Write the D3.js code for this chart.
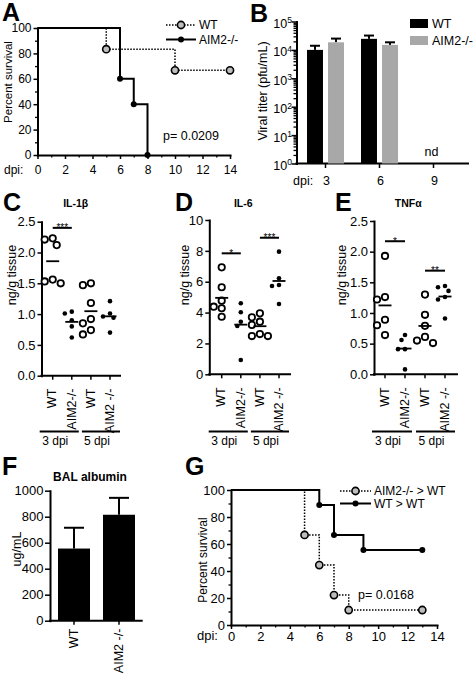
<!DOCTYPE html>
<html><head><meta charset="utf-8">
<script src="https://cdn.jsdelivr.net/npm/d3@7"></script>
<style>
body{margin:0;background:#fff;}
svg text{font-family:"Liberation Sans",Arial,Helvetica,sans-serif;fill:#000;}
</style></head><body>
<svg id="fig" width="474" height="674"></svg>
<script>
// ================= DATA =================
const survTicks = [0, 20, 40, 60, 80, 100];
const dayTicks = [0, 2, 4, 6, 8, 10, 12, 14];

// Panel A (Kaplan-Meier)
const aWTDays = [0, 5, 10, 14];
const aWTSurv = [100, 83.3, 66.7, 66.7];
const aKODays = [0, 6, 7, 8];
const aKOSurv = [100, 60, 40, 0];
const aLegend = ["WT", "AIM2-/-"];
const aPval = "p= 0.0209";

// Panel B (viral titer, log scale)
const bDays = ["3", "6", "9"];
const bGroups = ["WT", "AIM2-/-"];
const bWTMean = [1.0e4, 2.45e4, null];
const bWTErr = [1.4e4, 3.2e4, null];
const bKOMean = [1.85e4, 1.5e4, null];
const bKOErr = [2.5e4, 1.85e4, null];
const bExps = [0, 1, 2, 3, 4, 5];

// Panels C-E (cytokines)
const cytoCats = ["WT-3", "AIM2-3", "WT-5", "AIM2-5"];
const cytoLabels = ["WT", "AIM2-/-", "WT", "AIM2 -/-"];
const cytoGroups = ["3 dpi", "5 dpi"];

const il1bWT3 = [2.23, 2.21, 2.12, 1.56, 1.50, 1.53];
const il1bKO3 = [1.04, 1.01, 0.90, 0.80, 0.62];
const il1bWT5 = [1.50, 1.47, 1.18, 0.92, 0.85, 0.74, 0.67];
const il1bKO5 = [1.21, 1.01, 0.96, 0.94, 0.70];
const il1bTicks = [0, 0.5, 1.0, 1.5, 2.0, 2.5];
const il1bSig = [{a: 0, b: 1, v: 2.40, t: "***"}];

const il6WT3 = [6.93, 5.64, 4.77, 4.38, 4.28, 3.73];
const il6KO3 = [4.60, 4.02, 3.41, 3.13, 0.93];
const il6WT5 = [3.95, 3.69, 3.41, 3.20, 2.61, 2.48, 2.48];
const il6KO5 = [7.95, 6.22, 5.79, 5.72, 4.56];
const il6Ticks = [0, 2, 4, 6, 8, 10];
const il6Sig = [{a: 0, b: 1, v: 7.84, t: "*"}, {a: 2, b: 3, v: 8.85, t: "***"}];

const tnfWT3 = [1.93, 1.26, 1.22, 0.89, 0.80, 0.64];
const tnfKO3 = [0.64, 0.56, 0.41, 0.41, 0.08];
const tnfWT5 = [1.30, 0.97, 0.79, 0.61, 0.55, 0.51];
const tnfKO5 = [1.44, 1.42, 1.36, 1.26, 1.22, 0.91];
const tnfTicks = [0, 0.5, 1.0, 1.5, 2.0, 2.5];
const tnfSig = [{a: 0, b: 1, v: 2.17, t: "*"}, {a: 2, b: 3, v: 1.69, t: "**"}];

// Panel F (BAL albumin)
const fCats = ["WT", "AIM2 -/-"];
const fMean = [555, 815];
const fErr = [715, 945];
const fTicks = [0, 200, 400, 600, 800, 1000];

// Panel G (bone-marrow chimera survival)
const gKODays = [0, 5, 6, 7, 8, 13];
const gKOSurv = [100, 66.7, 44.4, 22.2, 11.1, 11.1];
const gWTDays = [0, 6, 7, 9, 13];
const gWTSurv = [100, 88.9, 66.7, 55.6, 55.6];
const gLegend = ["AIM2-/- > WT", "WT > WT"];
const gPval = "p= 0.0168";

// ================= DRAWING =================
const FONT = '"Liberation Sans", Arial, Helvetica, sans-serif';
const svg = d3.select("#fig");

function styleAxis(g, fs) {
  g.attr("font-family", FONT).attr("font-size", fs);
  g.select(".domain").attr("stroke", "#000").attr("stroke-width", 2).attr("stroke-linecap", "square");
  g.selectAll(".tick line").attr("stroke", "#000").attr("stroke-width", 1.5);
  g.selectAll(".tick text").attr("fill", "#000");
}
function minorStyle(g) {
  g.select(".domain").remove();
  g.selectAll(".tick line").attr("stroke", "#000").attr("stroke-width", 1.3);
}
function letter(t, x, y) {
  svg.append("text").attr("x", x).attr("y", y).attr("font-size", 25)
    .attr("font-weight", "bold").text(t);
}
function rotLabel(t, cx, cy, fs) {
  svg.append("text").attr("transform", `translate(${cx},${cy}) rotate(-90)`)
    .attr("text-anchor", "middle").attr("dy", "0.35em").attr("font-size", fs).text(t);
}
function txt(t, x, y, fs, anchor, weight) {
  return svg.append("text").attr("x", x).attr("y", y).attr("font-size", fs)
    .attr("text-anchor", anchor || "start").attr("font-weight", weight || "normal").text(t);
}

// ---------- survival panel ----------
function survival(o) {
  const x = d3.scaleLinear().domain([0, 14]).range([o.x0, o.x1]);
  const y = d3.scaleLinear().domain([0, 100]).range([o.yb, o.yt]);
  svg.append("g").attr("transform", `translate(${o.x0},0)`)
    .call(d3.axisLeft(y).tickValues(d3.range(10, 100, 20)).tickSize(2.5).tickFormat(""))
    .call(minorStyle);
  svg.append("g").attr("transform", `translate(0,${o.yb})`)
    .call(d3.axisBottom(x).tickValues(d3.range(1, 14, 2)).tickSize(2.5).tickFormat(""))
    .call(minorStyle);
  svg.append("g").attr("transform", `translate(${o.x0},0)`)
    .call(d3.axisLeft(y).tickValues(survTicks).tickSize(4).tickSizeOuter(0).tickPadding(2))
    .call(g => styleAxis(g, o.fs));
  svg.append("g").attr("transform", `translate(0,${o.yb})`)
    .call(d3.axisBottom(x).tickValues(dayTicks).tickSize(4).tickSizeOuter(0).tickPadding(o.xpad))
    .call(g => styleAxis(g, o.fs));
  txt("dpi:", o.dpiX, o.dpiY, o.fs);
  rotLabel("Percent survival", o.ylx, o.yly, o.ylfs);

  const line = d3.line().x(d => x(d[0])).y(d => y(d[1])).curve(d3.curveStepAfter);
  const dotted = d3.zip(o.dotDays, o.dotSurv);
  const solid = d3.zip(o.solDays, o.solSurv);
  svg.append("path").attr("d", line(dotted)).attr("fill", "none").attr("stroke", "#000")
    .attr("stroke-width", 1.5).attr("stroke-dasharray", "1.5,1.5");
  svg.append("path").attr("d", line(solid)).attr("fill", "none").attr("stroke", "#000")
    .attr("stroke-width", 2);
  svg.selectAll(null).data(dotted.slice(1)).join("circle")
    .attr("cx", d => x(d[0])).attr("cy", d => y(d[1])).attr("r", 3.6)
    .attr("fill", "#bdbdbd").attr("stroke", "#000").attr("stroke-width", 1.6);
  svg.selectAll(null).data(solid.slice(1)).join("circle")
    .attr("cx", d => x(d[0])).attr("cy", d => y(d[1])).attr("r", 3)
    .attr("fill", "#000");

  // legend
  o.legend.forEach((name, i) => {
    const ly = o.legY[i];
    const isDot = i === o.dotLegendIndex;
    svg.append("line").attr("x1", o.legX0).attr("x2", o.legX1).attr("y1", ly).attr("y2", ly)
      .attr("stroke", "#000").attr("stroke-width", isDot ? 1.5 : 2)
      .attr("stroke-dasharray", isDot ? "1.5,1.5" : null);
    const mx = (o.legX0 + o.legX1) / 2;
    if (isDot) svg.append("circle").attr("cx", mx).attr("cy", ly).attr("r", 3.6)
      .attr("fill", "#bdbdbd").attr("stroke", "#000").attr("stroke-width", 1.6);
    else svg.append("circle").attr("cx", mx).attr("cy", ly).attr("r", 3).attr("fill", "#000");
    txt(name, o.legX1 + 3, ly + 4.2, o.legFs);
  });
  txt(o.pval, o.px, o.py, 12.5);
}

// Panel A
letter("A", 2, 20.5);
survival({
  x0: 37.5, x1: 230, yt: 28, yb: 155, fs: 12, xpad: 6,
  dotDays: aWTDays, dotSurv: aWTSurv, solDays: aKODays, solSurv: aKOSurv,
  legend: aLegend, legY: [25, 39.5], dotLegendIndex: 0, legX0: 166, legX1: 196, legFs: 12,
  pval: aPval, px: 163, py: 140, dpiX: 4, dpiY: 174, ylx: 8, yly: 82, ylfs: 11.5
});

// Panel G
letter("G", 185, 475);
survival({
  x0: 231, x1: 437, yt: 490, yb: 625, fs: 13, xpad: 3,
  dotDays: gKODays, dotSurv: gKOSurv, solDays: gWTDays, solSurv: gWTSurv,
  legend: gLegend, legY: [491, 503.5], dotLegendIndex: 0, legX0: 340, legX1: 371, legFs: 12,
  pval: gPval, px: 358, py: 599, dpiX: 197, dpiY: 640, ylx: 202.5, yly: 560, ylfs: 12
});

// ---------- Panel B ----------
letter("B", 250, 22);
(function () {
  const x0 = 296.5, xEnd = 468, yb = 163.5, yt = 21.5;
  const bx = d3.scaleBand().domain(bDays).range([298.5, 460.5]);
  const bg = d3.scaleBand().domain(bGroups).range([-18.5, 18.5]).paddingInner(0.24);
  const by = d3.scaleLog().domain([1, 1e5]).range([yb, yt]);
  const minor = [];
  bExps.slice(0, -1).forEach(e => d3.range(2, 10).forEach(m => minor.push(m * Math.pow(10, e))));
  svg.append("g").attr("transform", `translate(${x0},0)`)
    .call(d3.axisLeft(by).tickValues(minor).tickSize(3).tickFormat(""))
    .call(minorStyle);
  svg.append("g").attr("transform", `translate(${x0},0)`)
    .call(d3.axisLeft(by).tickValues(bExps.map(e => Math.pow(10, e))).tickSize(5).tickSizeOuter(0).tickFormat(""))
    .call(g => styleAxis(g, 12));
  bExps.forEach(e => {
    const t = svg.append("text").attr("x", x0 - 4.5).attr("y", by(Math.pow(10, e)) + 6.5)
      .attr("text-anchor", "end").attr("font-size", 12.5);
    t.append("tspan").text("10");
    t.append("tspan").attr("dy", "-0.55em").attr("font-size", 8.5).text(e);
  });
  // x axis
  svg.append("line").attr("x1", x0).attr("x2", xEnd).attr("y1", yb).attr("y2", yb)
    .attr("stroke", "#000").attr("stroke-width", 2).attr("stroke-linecap", "square");
  bDays.forEach(d => {
    const cx = bx(d) + bx.bandwidth() / 2;
    svg.append("line").attr("x1", cx).attr("x2", cx).attr("y1", yb).attr("y2", yb + 4.5)
      .attr("stroke", "#000").attr("stroke-width", 1.5);
    txt(d, cx + 1, 185, 12.5, "middle");
  });
  txt("dpi:", 293, 185, 12.5);
  const series = [
    {g: bGroups[0], mean: bWTMean, err: bWTErr, color: "#000"},
    {g: bGroups[1], mean: bKOMean, err: bKOErr, color: "#a8a8a8"}
  ];
  series.forEach(s => {
    bDays.forEach((d, i) => {
      if (s.mean[i] == null) return;
      const left = bx(d) + bx.bandwidth() / 2 + bg(s.g);
      const cx = left + bg.bandwidth() / 2;
      svg.append("line").attr("x1", cx).attr("x2", cx).attr("y1", by(s.mean[i])).attr("y2", by(s.err[i]))
        .attr("stroke", "#000").attr("stroke-width", 2);
      svg.append("line").attr("x1", cx - 5).attr("x2", cx + 5).attr("y1", by(s.err[i])).attr("y2", by(s.err[i]))
        .attr("stroke", "#000").attr("stroke-width", 2);
      svg.append("rect").attr("x", left).attr("width", bg.bandwidth())
        .attr("y", by(s.mean[i])).attr("height", by(1) - by(s.mean[i])).attr("fill", s.color);
    });
  });
  txt("nd", bx("9") + bx.bandwidth() / 2 - 2, 156, 12.5, "middle");
  rotLabel("Viral titer (pfu/mL)", 262.5, 91, 12.5);
  // legend
  series.forEach((s, i) => {
    svg.append("rect").attr("x", 410).attr("y", 19 + i * 17).attr("width", 18).attr("height", 9).attr("fill", s.color);
    txt(s.g, 432, 28 + i * 17, 12.5);
  });
})();

// ---------- scatter panels ----------
function swarm(vals, y, minD, step) {
  const pts = vals.map(v => ({v, py: y(v)})).sort((a, b) => a.py - b.py);
  const placed = [];
  pts.forEach(p => {
    const cands = [0];
    for (let k = 1; k <= 5; k++) cands.push(-k * step, k * step);
    p.dx = cands.find(dx => placed.every(q => Math.hypot(q.dx - dx, q.py - p.py) >= minD));
    if (p.dx === undefined) p.dx = 0;
    placed.push(p);
  });
  return pts;
}

function scatter(o) {
  const y = d3.scaleLinear().domain([0, o.ticks[o.ticks.length - 1]]).range([o.yb, o.yt]);
  const x = d3.scalePoint().domain(cytoCats).range([o.c0, o.c1]);
  svg.append("g").attr("transform", `translate(${o.x0},0)`)
    .call(d3.axisLeft(y).tickValues(o.ticks).tickSize(4).tickSizeOuter(0).tickPadding(2).tickFormat(o.fmt))
    .call(g => styleAxis(g, 13));
  svg.append("line").attr("x1", o.x0).attr("x2", o.x1).attr("y1", o.yb).attr("y2", o.yb)
    .attr("stroke", "#000").attr("stroke-width", 2).attr("stroke-linecap", "square");
  cytoCats.forEach((c, i) => {
    svg.append("line").attr("x1", x(c)).attr("x2", x(c)).attr("y1", o.yb).attr("y2", o.yb + 4)
      .attr("stroke", "#000").attr("stroke-width", 1.5);
    svg.append("text").attr("transform", `translate(${x(c)},${o.yb + 13}) rotate(-90)`)
      .attr("text-anchor", "end").attr("dy", "0.3em").attr("font-size", 12.5).text(cytoLabels[i]);
  });
  const groups = [[x(cytoCats[0]) - 13, x(cytoCats[1]) + 7], [x(cytoCats[2]) - 9, x(cytoCats[3]) + 10]];
  groups.forEach((g, i) => {
    svg.append("line").attr("x1", g[0]).attr("x2", g[1]).attr("y1", 431.5).attr("y2", 431.5)
      .attr("stroke", "#000").attr("stroke-width", 2);
    txt(cytoGroups[i], (g[0] + g[1]) / 2 - 4, 445, 12, "middle");
  });
  o.series.forEach((vals, i) => {
    const cx = x(cytoCats[i]);
    const open = i % 2 === 0;
    const pts = swarm(vals, y, open ? 7.5 : 5.5, open ? 4 : 3.5);
    pts.forEach(p => {
      if (open) svg.append("circle").attr("cx", cx + p.dx).attr("cy", p.py).attr("r", 3.2)
        .attr("fill", "#fff").attr("stroke", "#000").attr("stroke-width", 1.8);
      else svg.append("circle").attr("cx", cx + p.dx).attr("cy", p.py).attr("r", 2.3).attr("fill", "#000");
    });
    const m = d3.mean(vals);
    svg.append("line").attr("x1", cx - 6.5).attr("x2", cx + 6.5).attr("y1", y(m)).attr("y2", y(m))
      .attr("stroke", "#000").attr("stroke-width", 1.8);
  });
  o.sig.forEach(s => {
    const xa = x(cytoCats[s.a]), xb = x(cytoCats[s.b]);
    svg.append("line").attr("x1", xa).attr("x2", xb).attr("y1", y(s.v)).attr("y2", y(s.v))
      .attr("stroke", "#000").attr("stroke-width", 2);
    txt(s.t, (xa + xb) / 2, y(s.v) + 3.5, 10, "middle").attr("fill", "#000");
  });
  txt(o.title, o.tx, 207, 10.5, "middle", "bold");
  rotLabel("ng/g tissue", o.ylx, 275, 12.5);
}

letter("C", 3, 211);
scatter({x0: 41.5, x1: 120, c0: 52.7, c1: 110, yt: 221.7, yb: 375.7, ticks: il1bTicks, fmt: d3.format(".1f"),
  series: [il1bWT3, il1bKO3, il1bWT5, il1bKO5], sig: il1bSig, title: "IL-1β", tx: 75.7, ylx: 11.5});
letter("D", 175, 211);
scatter({x0: 209.3, x1: 290, c0: 221.7, c1: 279, yt: 220, yb: 374.3, ticks: il6Ticks, fmt: d3.format("d"),
  series: [il6WT3, il6KO3, il6WT5, il6KO5], sig: il6Sig, title: "IL-6", tx: 243.3, ylx: 185});
letter("E", 335, 211);
scatter({x0: 374, x1: 457, c0: 385, c1: 445, yt: 221, yb: 374.3, ticks: tnfTicks, fmt: d3.format(".1f"),
  series: [tnfWT3, tnfKO3, tnfWT5, tnfKO5], sig: tnfSig, title: "TNFα", tx: 408.3, ylx: 341.5});

// ---------- Panel F ----------
letter("F", 2, 475);
(function () {
  const x0 = 50, x1 = 141.7, yb = 620.7, yt = 490.7;
  const fy = d3.scaleLinear().domain([0, 1000]).range([yb, yt]);
  const fx = d3.scaleBand().domain(fCats).range([51.5, 141.5]).paddingInner(0.289).paddingOuter(0.1444);
  svg.append("g").attr("transform", `translate(${x0},0)`)
    .call(d3.axisLeft(fy).tickValues(fTicks).tickSize(5).tickSizeOuter(0).tickPadding(1.5).tickFormat(d3.format("d")))
    .call(g => styleAxis(g, 13));
  fCats.forEach((c, i) => {
    const cx = fx(c) + fx.bandwidth() / 2;
    svg.append("line").attr("x1", cx).attr("x2", cx).attr("y1", fy(fMean[i])).attr("y2", fy(fErr[i]))
      .attr("stroke", "#000").attr("stroke-width", 2);
    svg.append("line").attr("x1", cx - 10).attr("x2", cx + 10).attr("y1", fy(fErr[i])).attr("y2", fy(fErr[i]))
      .attr("stroke", "#000").attr("stroke-width", 2);
    svg.append("rect").attr("x", fx(c)).attr("width", fx.bandwidth()).attr("y", fy(fMean[i]))
      .attr("height", fy(0) - fy(fMean[i])).attr("fill", "#000");
    svg.append("line").attr("x1", cx).attr("x2", cx).attr("y1", yb).attr("y2", yb + 4)
      .attr("stroke", "#000").attr("stroke-width", 1.5);
    svg.append("text").attr("transform", `translate(${cx},${yb + 8}) rotate(-90)`)
      .attr("text-anchor", "end").attr("dy", "0.3em").attr("font-size", 12.5).text(c);
  });
  svg.append("line").attr("x1", x0).attr("x2", x1).attr("y1", yb).attr("y2", yb)
    .attr("stroke", "#000").attr("stroke-width", 2).attr("stroke-linecap", "square");
  txt("BAL albumin", 90, 481, 12, "middle", "bold");
  rotLabel("ug/mL", 16.5, 549, 12.5);
})();
</script>
</body></html>
